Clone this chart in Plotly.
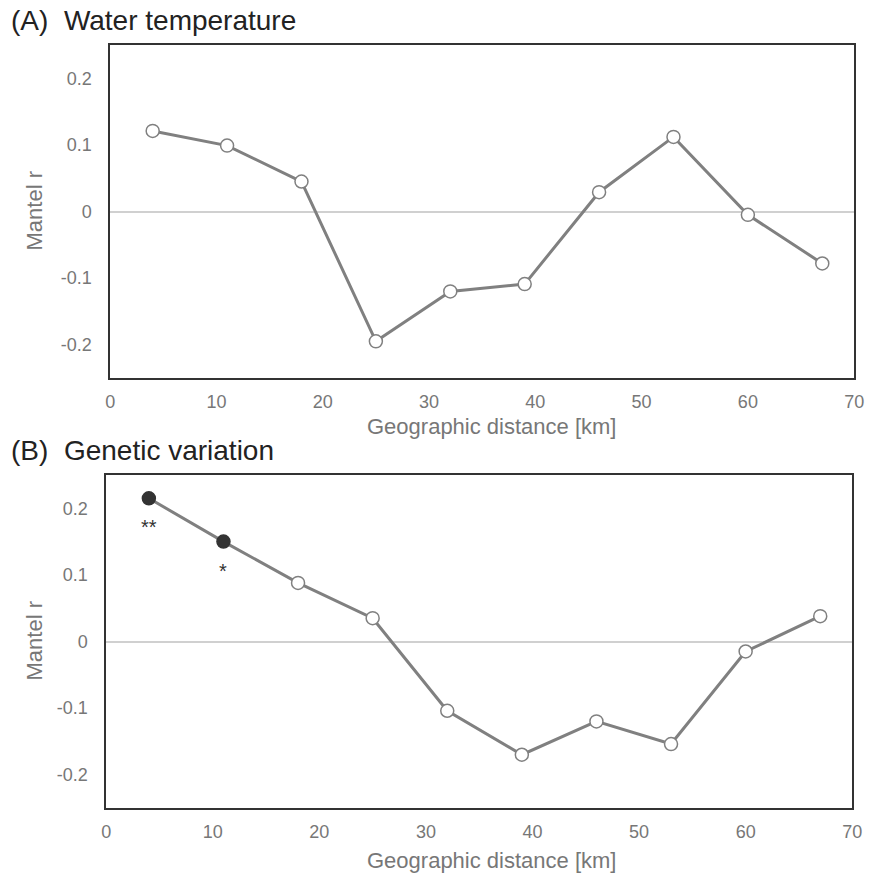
import plotly.graph_objects as go

distance_km = [4, 11, 18, 25, 32, 39, 46, 53, 60, 67]
water_temp_r = [0.121, 0.099, 0.045, -0.195, -0.120, -0.109, 0.029, 0.112, -0.005, -0.078]
genetic_r = [0.215, 0.150, 0.088, 0.035, -0.104, -0.170, -0.120, -0.154, -0.015, 0.038]
genetic_sig = ["**", "*", "", "", "", "", "", "", "", ""]
panel_titles = ["(A)  Water temperature", "(B)  Genetic variation"]
x_title = "Geographic distance [km]"
y_title = "Mantel r"
x_ticks = [0, 10, 20, 30, 40, 50, 60, 70]
y_ticks = [-0.2, -0.1, 0, 0.1, 0.2]
y_tick_text = ["-0.2", "-0.1", "0", "0.1", "0.2"]

FONT = "Liberation Sans, Arial, sans-serif"
LINE = "#808080"
H = 874.0

def py(pix):
    return 1 - pix / H

def px(pix):
    return pix / H

fig = go.Figure()

fig.add_trace(go.Scatter(
    x=distance_km, y=water_temp_r, mode="lines+markers",
    line=dict(color=LINE, width=3),
    marker=dict(size=13, color="white", line=dict(color=LINE, width=1.5)),
    xaxis="x", yaxis="y", showlegend=False, hoverinfo="x+y"))

fill_colors = ["#333333" if s else "white" for s in genetic_sig]
line_colors = ["#333333" if s else LINE for s in genetic_sig]
fig.add_trace(go.Scatter(
    x=distance_km, y=genetic_r, mode="lines+markers",
    line=dict(color=LINE, width=3),
    marker=dict(size=13, color=fill_colors, line=dict(color=line_colors, width=1.5)),
    xaxis="x2", yaxis="y2", showlegend=False, hoverinfo="x+y"))

annotations = []
for xv, yv, s in zip(distance_km, genetic_r, genetic_sig):
    if s:
        annotations.append(dict(
            x=xv, y=yv, xref="x2", yref="y2", text=s, showarrow=False,
            yshift=-29, font=dict(family=FONT, size=20, color="#333333")))

title_font = dict(family=FONT, size=28, color="#222222")
annotations.append(dict(x=px(4), y=py(21), xref="paper", yref="paper", text=panel_titles[0],
                        showarrow=False, xanchor="left", yanchor="middle", font=title_font))
annotations.append(dict(x=px(4), y=py(451), xref="paper", yref="paper", text=panel_titles[1],
                        showarrow=False, xanchor="left", yanchor="middle", font=title_font))

axis_title_font = dict(family=FONT, size=22, color="#777777")
for yc in (427, 860):
    annotations.append(dict(x=px(495), y=py(yc), xref="paper", yref="paper", text=x_title,
                            showarrow=False, xanchor="center", yanchor="middle",
                            font=axis_title_font))
for yc in (211, 641):
    annotations.append(dict(x=px(30), y=py(yc), xref="paper", yref="paper", text=y_title,
                            showarrow=False, xanchor="center", yanchor="middle", textangle=-90,
                            font=axis_title_font))

tick_font = dict(family=FONT, size=18, color="#777777")

def xaxis_cfg(domain, anchor):
    return dict(domain=domain, anchor=anchor, range=[0, 70], tickvals=x_ticks,
                showgrid=False, zeroline=False, showline=True, mirror=True,
                linecolor="#333333", linewidth=1.5, ticks="", ticklabelstandoff=7,
                tickfont=tick_font)

def yaxis_cfg(domain, anchor):
    return dict(domain=domain, anchor=anchor, range=[-0.25, 0.25], tickvals=y_ticks,
                ticktext=y_tick_text, showgrid=False, zeroline=True,
                zerolinecolor="#d0d0d0", zerolinewidth=1.5,
                showline=True, mirror=True, linecolor="#333333", linewidth=1.5,
                ticks="", ticklabelstandoff=13, tickfont=tick_font)

fig.update_layout(
    width=874, height=874,
    margin=dict(l=0, r=0, t=0, b=0),
    paper_bgcolor="white", plot_bgcolor="white",
    xaxis=xaxis_cfg([px(107), px(864)], "y"),
    yaxis=yaxis_cfg([py(378), py(45)], "x"),
    xaxis2=xaxis_cfg([px(103), px(862)], "y2"),
    yaxis2=yaxis_cfg([py(808), py(475)], "x2"),
    annotations=annotations,
)

fig.write_html("out.html")
